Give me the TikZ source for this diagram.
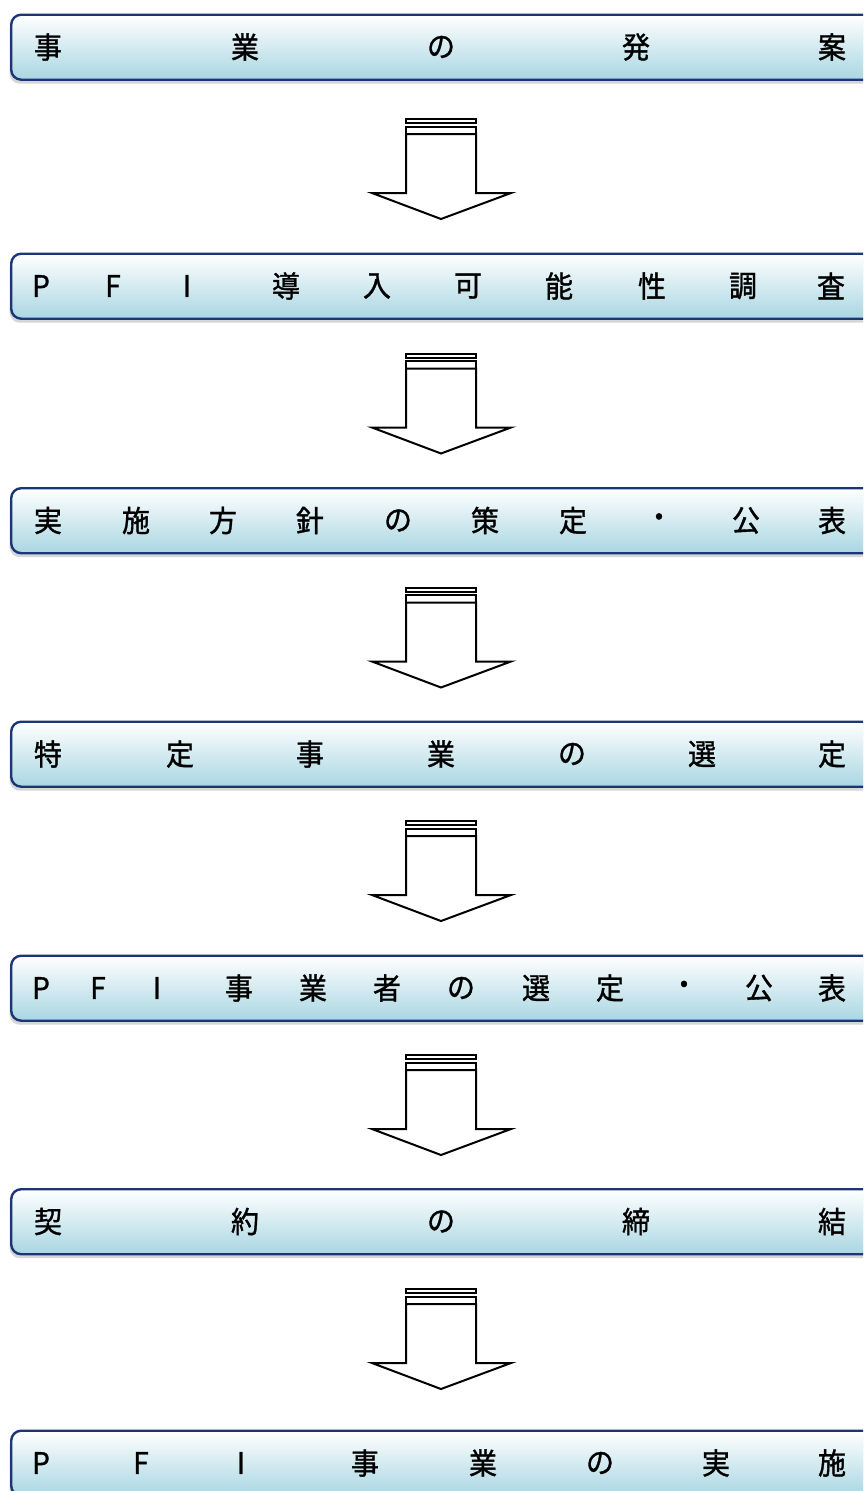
\documentclass[tikz,border=0pt]{standalone}
\usepackage{fontspec}
\newfontfamily\jp[FakeBold=1.2]{Noto Sans CJK JP}
\usetikzlibrary{shadows}
\definecolor{boxborder}{HTML}{1B3578}
\definecolor{boxbottom}{HTML}{A9D6E2}
\definecolor{boxtop}{HTML}{FFFFFF}
\tikzset{
  stepbox/.style={draw=boxborder, line width=2.4pt, rounded corners=10pt,
    top color=boxtop, bottom color=boxbottom, minimum width=880pt,
    minimum height=65pt, anchor=north west, inner sep=0pt,
    drop shadow={shadow xshift=-1.5pt, shadow yshift=-4pt, fill=black!35, opacity=0.45}},
  chr/.style={font=\jp\fontsize{28pt}{30pt}\selectfont, inner sep=0pt, anchor=center, text=black, yscale=1.06},
  arrowline/.style={draw=black, line width=2pt, fill=white, line join=miter},
  blockarrow/.pic={
    \draw[arrowline] (-35,0) rectangle (35,4);
    \draw[arrowline] (-35,7.5) rectangle (35,15);
    \draw[arrowline] (-35,15) -- (-35,74) -- (-69,74) -- (0,100) -- (70,74) -- (35,74) -- (35,15) -- cycle;
  }
}
\begin{document}
\begin{tikzpicture}[x=1pt,y=-1pt]
\clip (0,0) rectangle (863,1491);
\fill[white] (0,0) rectangle (863,1491);

% boxes
\node[stepbox] (box1) at (10,13.5) {};
\node[stepbox] (box2) at (10,252.5) {};
\node[stepbox] (box3) at (10,487) {};
\node[stepbox] (box4) at (10,720.5) {};
\node[stepbox] (box5) at (10,954.5) {};
\node[stepbox] (box6) at (10,1188) {};
\node[stepbox] (box7) at (10,1429.5) {};

% arrows
\pic (ar1) at (441,119) {blockarrow};
\pic (ar2) at (441,353.5) {blockarrow};
\pic (ar3) at (441,587.5) {blockarrow};
\pic (ar4) at (441,821) {blockarrow};
\pic (ar5) at (441,1055) {blockarrow};
\pic (ar6) at (441,1289) {blockarrow};

% texts
\foreach \x/\c [count=\j] in {48/事,245/業,441/の,636/発,832/案}
  \node[chr] (t1-\j) at (\x,47) {\c};
\foreach \x/\c [count=\j] in {41/P,113/F,187/I,286/導,377/入,468/可,559/能,652/性,743/調,831/査}
  \node[chr] (t2-\j) at (\x,286) {\c};
\foreach \x/\c [count=\j] in {48/実,136/施,223/方,310/針,398/の,485/策,573/定,659/・,746/公,832/表}
  \node[chr] (t3-\j) at (\x,520.5) {\c};
\foreach \x/\c [count=\j] in {48/特,180/定,310/事,441/業,572/の,702/選,832/定}
  \node[chr] (t4-\j) at (\x,754) {\c};
\foreach \x/\c [count=\j] in {41/P,98/F,157/I,239/事,313/業,387/者,461/の,536/選,610/定,684/・,759/公,832/表}
  \node[chr] (t5-\j) at (\x,988) {\c};
\foreach \x/\c [count=\j] in {48/契,245/約,441/の,636/締,832/結}
  \node[chr] (t6-\j) at (\x,1221.5) {\c};
\foreach \x/\c [count=\j] in {41/P,141/F,241/I,365/事,483/業,600/の,716/実,832/施}
  \node[chr] (t7-\j) at (\x,1463) {\c};
\end{tikzpicture}
\end{document}
